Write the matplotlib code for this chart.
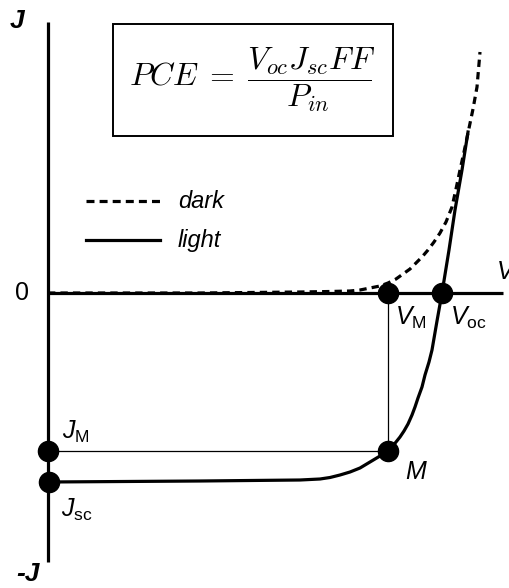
import matplotlib
matplotlib.use("Agg")
import matplotlib.pyplot as plt
from matplotlib.patches import Rectangle

plt.rcParams['font.family'] = ['Liberation Sans', 'DejaVu Sans']
plt.rcParams['mathtext.fontset'] = 'custom'
plt.rcParams['mathtext.rm'] = 'Liberation Sans'
plt.rcParams['mathtext.it'] = 'Liberation Sans:italic'

# J-V curves (arbitrary units, origin at the axes crossing)
light_v = [0, 152, 252, 262, 272, 282, 292, 302, 312, 322, 332, 340,
           344, 348, 352, 356, 360, 364, 367, 370, 374, 377, 381, 384, 389, 394, 401, 407, 414, 420]
light_j = [-189, -188, -187, -186.5, -186, -184.5, -182, -179, -175, -169, -163, -158,
           -154, -149, -144, -138, -131, -122, -114, -105, -94, -82, -69, -57, -28, 0, 43, 83, 123, 161]

dark_v = [0, 152, 252, 282, 302, 312, 322, 332, 340, 348, 355, 362, 368, 374,
          380, 386, 392, 398, 404, 408, 412, 416, 420, 425, 429, 432]
dark_j = [0, 0, 1, 1.5, 2, 3, 5, 7, 10, 14, 19, 24, 30, 36,
          43, 51, 60, 71, 86, 104, 123, 141, 160, 184, 206, 241]

# special points
v_m, j_m = 340, -158
v_oc = 394
j_sc = -189

fig = plt.figure(figsize=(5.09, 5.88), dpi=100)
ax = fig.add_axes([0, 0, 1, 1])
ax.set_xlim(-48, 461)
ax.set_ylim(-295, 293)
ax.axis('off')

# axes
ax.plot([0, 0], [271, -269], color='black', lw=2.3, solid_capstyle='butt')
ax.plot([0, 455], [0, 0], color='black', lw=2.3, solid_capstyle='butt')

# guide lines to the max power point
ax.plot([0, v_m], [j_m, j_m], color='black', lw=0.9)
ax.plot([v_m, v_m], [0, j_m], color='black', lw=0.9)

# curves
ax.plot(dark_v, dark_j, color='black', lw=2.3, linestyle=(0, (2.3, 1.6)))
ax.plot(light_v, light_j, color='black', lw=2.3, solid_joinstyle='round')

# dots
ax.plot([v_m, v_oc, v_m, 0, 1], [0, 0, j_m, j_m, j_sc], 'o', color='black', ms=14.5)

# legend
ax.plot([38, 112], [92, 92], color='black', lw=2.3, linestyle=(0, (2.5, 1.6)))
ax.plot([38, 112], [53, 53], color='black', lw=2.3)
ax.text(130, 92, 'dark', style='italic', fontsize=17, va='center', ha='left')
ax.text(130, 53, 'light', style='italic', fontsize=17, va='center', ha='left')

# formula box
ax.add_patch(Rectangle((65, 157), 280, 112, fill=False, lw=1.4, color='black'))
ax.text(204, 213, r'$PCE\;=\;\dfrac{V_{oc}J_{sc}FF}{P_{in}}$', math_fontfamily='cm',
        fontsize=23, ha='center', va='center')

# axis labels
ax.text(-38, 272, 'J', fontsize=19, style='italic', weight='bold', ha='left', va='center')
ax.text(-32, -281, '-J', fontsize=19, style='italic', weight='bold', ha='left', va='center')
ax.text(-26, 0, '0', fontsize=18, ha='center', va='center')
ax.text(449, 21, 'V', fontsize=18, style='italic', ha='left', va='center')

# point labels
ax.text(347, -25, r'$V_{\mathrm{M}}$', fontsize=18, ha='left', va='center')
ax.text(402, -25, r'$V_{\mathrm{oc}}$', fontsize=18, ha='left', va='center')
ax.text(14, -139, r'$J_{\mathrm{M}}$', fontsize=18, ha='left', va='center')
ax.text(13, -217, r'$J_{\mathrm{sc}}$', fontsize=18, ha='left', va='center')
ax.text(357, -179, r'$M$', fontsize=18, ha='left', va='center')

fig.savefig('out.png', dpi=100)
